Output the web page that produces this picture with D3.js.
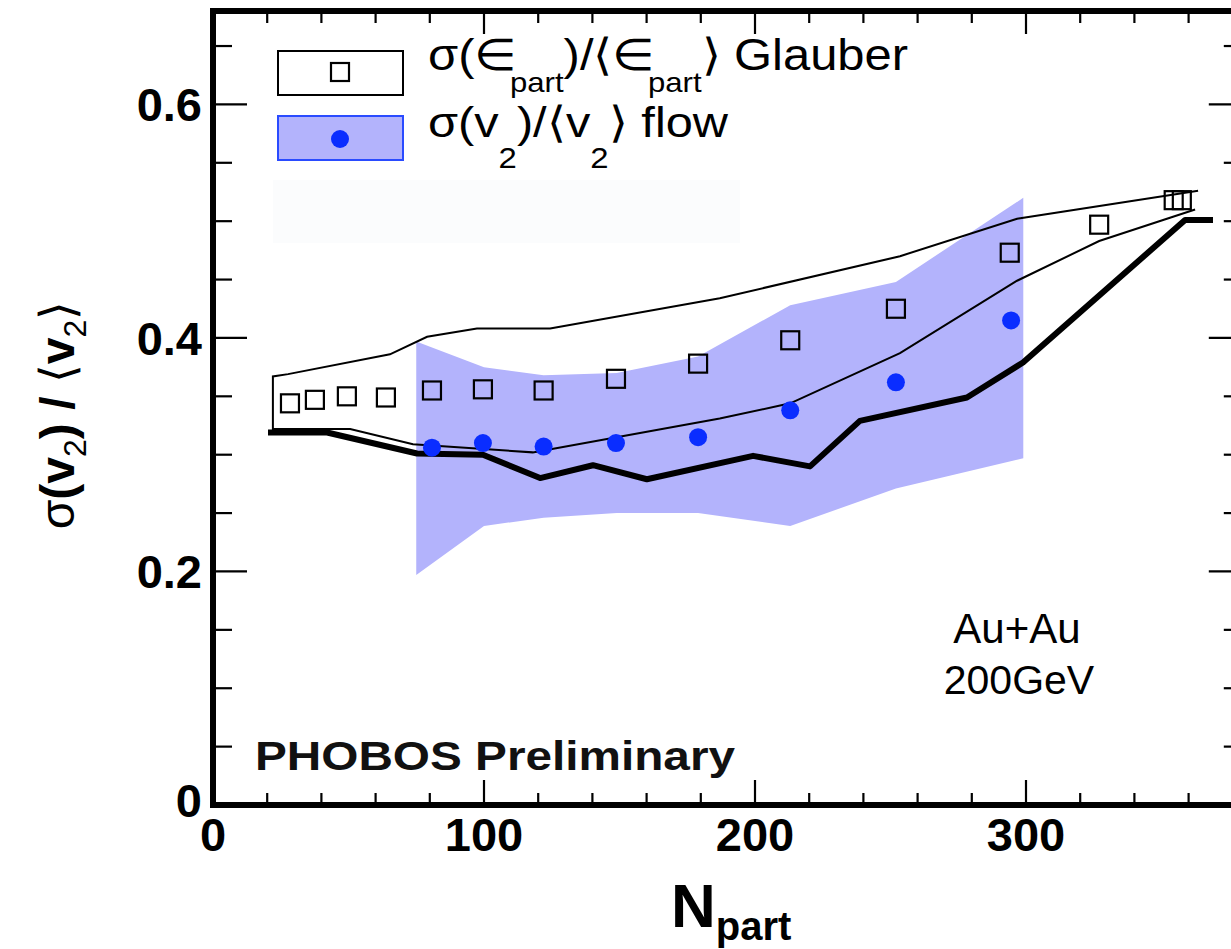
<!DOCTYPE html>
<html>
<head>
<meta charset="utf-8">
<script src="https://cdn.jsdelivr.net/npm/d3@7/dist/d3.min.js"></script>
<style>
  html, body { margin: 0; padding: 0; background: #fff; }
  svg { display: block; }
  text { font-family: "Liberation Sans", Arial, Helvetica, sans-serif; }
</style>
</head>
<body>
<svg id="chart" width="1231" height="949"></svg>
<script>
// ---------- data ----------
const glauberN = [28.4, 37.6, 49.4, 63.8, 80.8, 99.6, 122, 148.7, 179, 213, 252, 294, 327, 354.5, 357.5];
const glauberV = [0.344, 0.347, 0.350, 0.349, 0.355, 0.356, 0.355, 0.365, 0.378, 0.398, 0.425, 0.473, 0.497, 0.518, 0.518];

const flowN = [80.8, 99.6, 122, 148.7, 179, 213, 252, 294.5];
const flowV = [0.306, 0.310, 0.307, 0.310, 0.315, 0.338, 0.362, 0.415];

const bandN  = [75, 100, 122, 149, 179, 213, 252, 299];
const bandLo = [0.197, 0.239, 0.246, 0.250, 0.250, 0.239, 0.271, 0.297];
const bandHi = [0.397, 0.375, 0.368, 0.370, 0.384, 0.428, 0.448, 0.520];

const upperN = [22.1, 27.7, 65.3, 79, 97.4, 124.4, 187, 253.5, 296.7, 363.5];
const upperV = [0.367, 0.369, 0.386, 0.401, 0.408, 0.408, 0.434, 0.470, 0.502, 0.526];

const lowerN = [22.1, 50.6, 73.8, 118, 187, 213, 253.5, 296.7, 327, 362.4];
const lowerV = [0.322, 0.322, 0.309, 0.302, 0.331, 0.344, 0.387, 0.449, 0.483, 0.510];

const thickN = [20.3, 42.1, 75.3, 99.6, 120.7, 140.2, 160.1, 199.3, 220.3, 238.7, 278.2, 298.9, 358.7, 369];
const thickV = [0.319, 0.319, 0.301, 0.300, 0.280, 0.291, 0.279, 0.299, 0.290, 0.329, 0.349, 0.379, 0.501, 0.501];

const xMajorTicks = [0, 100, 200, 300];
const xTickLabels = ["0", "100", "200", "300"];
const xMinorTicks = [20, 40, 60, 80, 120, 140, 160, 180, 220, 240, 260, 280, 320, 340, 360];
const yMajorTicks = [0, 0.2, 0.4, 0.6];
const yTickLabels = ["0", "0.2", "0.4", "0.6"];
const yMinorTicks = [0.05, 0.1, 0.15, 0.25, 0.3, 0.35, 0.45, 0.5, 0.55, 0.65];

// ---------- setup ----------
const svg = d3.select("#chart");
const x = d3.scaleLinear().domain([0, 380]).range([213, 1242.8]);
const y = d3.scaleLinear().domain([0, 0.68]).range([805, 11]);

const BAND = "#b3b3fc";
const BLUE = "#0a2dff";

// faint region under legend
svg.append("rect").attr("x", 273).attr("y", 180).attr("width", 467).attr("height", 63)
  .attr("fill", "#fbfcfd");

// band (flow systematic)
const bandData = bandN.map((n, i) => ({n, lo: bandLo[i], hi: bandHi[i]}));
svg.append("path").datum(bandData)
  .attr("d", d3.area().x(d => x(d.n)).y0(d => y(d.lo)).y1(d => y(d.hi)))
  .attr("fill", BAND);

// Glauber outline: lower line reversed, then up the left side and along the upper line
const outline = lowerN.map((n, i) => [n, lowerV[i]]).reverse()
  .concat(upperN.map((n, i) => [n, upperV[i]]));
const line = d3.line().x(d => x(d[0])).y(d => y(d[1]));
svg.append("path").datum(outline).attr("d", line)
  .attr("fill", "none").attr("stroke", "#000").attr("stroke-width", 2);

// thick line
svg.append("path").datum(thickN.map((n, i) => [n, thickV[i]])).attr("d", line)
  .attr("fill", "none").attr("stroke", "#000").attr("stroke-width", 6)
  .attr("stroke-linejoin", "round");

// Glauber squares
const S = 18;
svg.append("g").selectAll("rect").data(glauberN.map((n, i) => [n, glauberV[i]]))
  .join("rect")
  .attr("x", d => x(d[0]) - S / 2).attr("y", d => y(d[1]) - S / 2)
  .attr("width", S).attr("height", S)
  .attr("fill", "none").attr("stroke", "#000").attr("stroke-width", 2.2);

// flow dots
svg.append("g").selectAll("circle").data(flowN.map((n, i) => [n, flowV[i]]))
  .join("circle")
  .attr("cx", d => x(d[0])).attr("cy", d => y(d[1])).attr("r", 9)
  .attr("fill", BLUE);

// ---------- frame and ticks ----------
const x0 = x(0), x1 = x(380), yb = y(0), yt = y(0.68);
const tk = svg.append("g").attr("stroke", "#000").attr("stroke-width", 2.2);
xMajorTicks.forEach(v => {
  tk.append("line").attr("x1", x(v)).attr("x2", x(v)).attr("y1", yb).attr("y2", yb - 25);
  tk.append("line").attr("x1", x(v)).attr("x2", x(v)).attr("y1", yt).attr("y2", yt + 23);
});
xMinorTicks.forEach(v => {
  tk.append("line").attr("x1", x(v)).attr("x2", x(v)).attr("y1", yb).attr("y2", yb - 12);
  tk.append("line").attr("x1", x(v)).attr("x2", x(v)).attr("y1", yt).attr("y2", yt + 12);
});
yMajorTicks.forEach(v => {
  tk.append("line").attr("x1", x0).attr("x2", x0 + 34).attr("y1", y(v)).attr("y2", y(v));
  tk.append("line").attr("x1", x1).attr("x2", x1 - 34).attr("y1", y(v)).attr("y2", y(v));
});
yMinorTicks.forEach(v => {
  tk.append("line").attr("x1", x0).attr("x2", x0 + 19).attr("y1", y(v)).attr("y2", y(v));
  tk.append("line").attr("x1", x1).attr("x2", x1 - 19).attr("y1", y(v)).attr("y2", y(v));
});
svg.append("rect").attr("x", x0).attr("y", yt).attr("width", x1 - x0).attr("height", yb - yt)
  .attr("fill", "none").attr("stroke", "#000").attr("stroke-width", 6);

// tick labels
svg.append("g").selectAll("text").data(xMajorTicks).join("text")
  .attr("x", d => x(d)).attr("y", 851)
  .attr("text-anchor", "middle").attr("font-size", 47).attr("font-weight", "bold")
  .text((d, i) => xTickLabels[i]);
svg.append("g").selectAll("text").data(yMajorTicks).join("text")
  .attr("x", 202).attr("y", d => y(d) + 17 - (d === 0 ? 5 : 0))
  .attr("text-anchor", "end").attr("font-size", 47).attr("font-weight", "bold")
  .text((d, i) => yTickLabels[i]);

// axis titles
const xt = svg.append("text").attr("x", 671).attr("y", 927)
  .attr("font-weight", "bold");
xt.append("tspan").attr("font-size", 62).text("N");
xt.append("tspan").attr("font-size", 40).attr("dy", 13).text("part");

const yt2 = svg.append("text").attr("transform", "translate(74,415) rotate(-90)")
  .attr("text-anchor", "middle").attr("font-size", 48);
yt2.append("tspan").text("σ");
yt2.append("tspan").attr("font-weight", "bold").text("(v");
yt2.append("tspan").attr("font-size", 32).attr("dy", 12).text("2");
yt2.append("tspan").attr("font-weight", "bold").attr("dy", -12).text(") / ");
yt2.append("tspan").text("⟨");
yt2.append("tspan").attr("font-weight", "bold").text("v");
yt2.append("tspan").attr("font-size", 32).attr("dy", 12).text("2");
yt2.append("tspan").attr("dy", -12).text("⟩");

// ---------- legend ----------
svg.append("rect").attr("x", 278).attr("y", 51).attr("width", 125).attr("height", 44)
  .attr("fill", "#fff").attr("stroke", "#000").attr("stroke-width", 2);
svg.append("rect").attr("x", 331).attr("y", 63).attr("width", 18).attr("height", 18)
  .attr("fill", "none").attr("stroke", "#000").attr("stroke-width", 2.2);
svg.append("rect").attr("x", 278).attr("y", 116).attr("width", 125).attr("height", 44)
  .attr("fill", BAND).attr("stroke", "#2a4bff").attr("stroke-width", 2);
svg.append("circle").attr("cx", 340).attr("cy", 139).attr("r", 9).attr("fill", BLUE);

const l1 = svg.append("text").attr("x", 428).attr("y", 70).attr("font-size", 44)
  .attr("textLength", 480).attr("lengthAdjust", "spacingAndGlyphs");
l1.append("tspan").text("σ(∈");
l1.append("tspan").attr("font-size", 28).attr("dy", 22).attr("dx", -6).text("part");
l1.append("tspan").attr("dy", -22).text(")/⟨∈");
l1.append("tspan").attr("font-size", 28).attr("dy", 22).attr("dx", -6).text("part");
l1.append("tspan").attr("dy", -22).text("⟩ Glauber");

const l2 = svg.append("text").attr("x", 428).attr("y", 137).attr("font-size", 43)
  .attr("textLength", 300).attr("lengthAdjust", "spacingAndGlyphs");
l2.append("tspan").text("σ(v");
l2.append("tspan").attr("font-size", 29).attr("dy", 31).text("2");
l2.append("tspan").attr("dy", -31).text(")/⟨v");
l2.append("tspan").attr("font-size", 29).attr("dy", 31).text("2");
l2.append("tspan").attr("dy", -31).text("⟩ flow");

// ---------- annotations ----------
svg.append("text").attr("x", 255).attr("y", 770).attr("font-size", 40)
  .attr("font-weight", "bold").attr("fill", "#111")
  .attr("textLength", 480).attr("lengthAdjust", "spacingAndGlyphs")
  .text("PHOBOS Preliminary");
svg.append("text").attr("x", 1017).attr("y", 643).attr("font-size", 42)
  .attr("text-anchor", "middle").text("Au+Au");
svg.append("text").attr("x", 1019).attr("y", 694).attr("font-size", 41)
  .attr("text-anchor", "middle").text("200GeV");
</script>
</body>
</html>
